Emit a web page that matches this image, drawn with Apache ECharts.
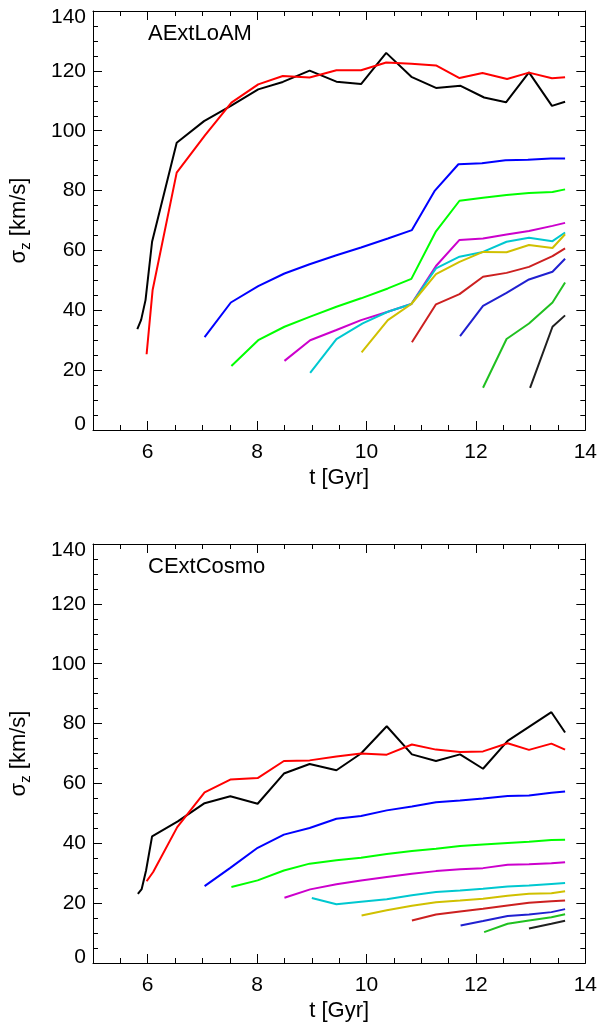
<!DOCTYPE html>
<html><head><meta charset="utf-8">
<script src="https://cdn.jsdelivr.net/npm/echarts@6/dist/echarts.min.js"></script>
<style>html,body{margin:0;padding:0;background:#fff}#c{width:600px;height:1024px}</style>
</head><body><div id="c"></div>
<script>
// ---- Panel titles ----
const panelTitles = ['AExtLoAM', 'CExtCosmo'];
const xName = 't [Gyr]';
const xTickLabels = [6, 8, 10, 12, 14];
const yTickLabels = [0, 20, 40, 60, 80, 100, 120, 140];

// ---- Panel A (AExtLoAM): [t, sigma_z] ----
const A_black = [[5.81,33.7],[5.88,36.8],[5.96,43.4],[6.08,62.9],[6.53,96.0],[7.03,103.2],[7.52,108.3],[8.02,113.8],[8.47,116.3],[8.96,120.1],[9.45,116.4],[9.9,115.6],[10.36,126.0],[10.82,118.0],[11.27,114.3],[11.72,115.0],[12.15,111.1],[12.55,109.5],[12.97,119.5],[13.39,108.3],[13.63,109.7]];
const A_red = [[5.98,25.3],[6.09,46.8],[6.53,86.0],[7.05,98.5],[7.53,109.4],[8.02,115.5],[8.47,118.3],[8.96,117.8],[9.45,120.2],[9.9,120.2],[10.36,122.8],[10.82,122.4],[11.27,121.8],[11.7,117.6],[12.12,119.3],[12.57,117.3],[12.97,119.4],[13.39,117.5],[13.63,117.9]];
const A_blue = [[7.04,31.0],[7.52,42.6],[8.02,48.1],[8.5,52.3],[8.96,55.4],[9.45,58.4],[9.9,61.0],[10.39,64.0],[10.83,66.8],[11.25,80.0],[11.68,88.8],[12.11,89.1],[12.54,90.1],[12.95,90.3],[13.37,90.7],[13.63,90.7]];
const A_green = [[7.53,21.4],[8.02,30.0],[8.5,34.5],[8.96,37.8],[9.45,41.2],[9.9,44.0],[10.39,47.3],[10.82,50.5],[11.27,66.4],[11.7,76.6],[12.13,77.6],[12.56,78.5],[12.97,79.2],[13.4,79.5],[13.63,80.4]];
const A_magenta = [[8.5,23.1],[8.97,30.0],[9.45,33.4],[9.9,36.7],[10.39,39.5],[10.82,42.1],[11.27,54.8],[11.7,63.5],[12.13,64.0],[12.56,65.3],[12.97,66.5],[13.4,68.2],[13.63,69.2]];
const A_cyan = [[8.97,19.1],[9.45,30.4],[9.93,35.6],[10.39,39.5],[10.82,42.1],[11.27,54.0],[11.7,57.9],[12.13,59.5],[12.56,62.9],[12.97,64.2],[13.4,63.1],[13.63,66.0]];
const A_yellow = [[9.91,25.9],[10.39,36.7],[10.82,42.1],[11.27,52.1],[11.7,56.2],[12.13,59.5],[12.56,59.4],[12.97,61.8],[13.4,60.8],[13.63,65.4]];
const A_red2 = [[10.83,29.3],[11.27,42.0],[11.7,45.4],[12.13,51.2],[12.56,52.5],[12.97,54.5],[13.4,58.1],[13.63,60.7]];
const A_blue2 = [[11.71,31.4],[12.13,41.5],[12.56,45.8],[12.97,50.3],[13.4,52.9],[13.63,57.2]];
const A_green2 = [[12.13,14.1],[12.56,30.4],[12.97,35.6],[13.4,42.6],[13.63,49.3]];
const A_black2 = [[12.99,14.1],[13.4,34.5],[13.63,38.3]];

// ---- Panel C (CExtCosmo): [t, sigma_z] ----
const C_black = [[5.82,23.1],[5.89,24.7],[5.97,30.9],[6.08,42.3],[6.55,47.3],[7.04,53.4],[7.51,55.7],[8.01,53.2],[8.49,63.3],[8.96,66.5],[9.45,64.4],[9.9,70.0],[10.37,79.1],[10.83,69.7],[11.27,67.5],[11.71,69.7],[12.13,64.9],[12.58,74.2],[12.97,78.9],[13.38,83.8],[13.63,77.0]];
const C_red = [[5.98,27.3],[6.1,30.4],[6.54,45.4],[7.04,57.0],[7.51,61.3],[8.01,61.8],[8.49,67.5],[8.96,67.7],[9.45,69.0],[9.9,70.0],[10.37,69.6],[10.83,73.0],[11.27,71.3],[11.71,70.5],[12.13,70.7],[12.58,73.4],[12.97,71.2],[13.38,73.3],[13.63,71.3]];
const C_blue = [[7.04,25.7],[7.51,31.8],[8.01,38.5],[8.49,42.9],[8.96,45.1],[9.45,48.2],[9.9,49.1],[10.37,51.0],[10.83,52.3],[11.27,53.7],[11.71,54.3],[12.13,55.0],[12.58,55.8],[12.97,56.0],[13.38,56.9],[13.63,57.3]];
const C_green = [[7.53,25.4],[8.01,27.6],[8.49,30.9],[8.96,33.2],[9.45,34.3],[9.9,35.2],[10.37,36.4],[10.83,37.4],[11.27,38.2],[11.71,39.1],[12.13,39.6],[12.58,40.1],[12.97,40.5],[13.38,41.1],[13.63,41.2]];
const C_magenta = [[8.5,21.8],[8.97,24.6],[9.45,26.3],[9.9,27.6],[10.37,28.7],[10.83,29.8],[11.27,30.7],[11.71,31.3],[12.13,31.7],[12.58,32.8],[12.97,33.0],[13.38,33.3],[13.63,33.7]];
const C_cyan = [[9.0,21.7],[9.45,19.6],[9.9,20.5],[10.37,21.3],[10.83,22.6],[11.27,23.7],[11.71,24.2],[12.13,24.8],[12.58,25.6],[12.97,25.9],[13.38,26.4],[13.63,26.7]];
const C_yellow = [[9.91,15.9],[10.37,17.6],[10.83,19.1],[11.27,20.3],[11.71,20.9],[12.13,21.5],[12.58,22.5],[12.97,23.1],[13.38,23.3],[13.63,24.0]];
const C_red2 = [[10.83,14.2],[11.27,16.2],[11.71,17.2],[12.13,18.1],[12.58,19.2],[12.97,20.1],[13.38,20.6],[13.63,20.9]];
const C_blue2 = [[11.72,12.5],[12.13,14.0],[12.58,15.7],[12.97,16.2],[13.38,17.0],[13.63,18.0]];
const C_green2 = [[12.15,10.3],[12.58,13.1],[12.97,14.2],[13.38,15.3],[13.63,16.3]];
const C_black2 = [[12.97,11.5],[13.38,13.1],[13.63,14.1]];

const seriesColors = ['#000000','#ff0000','#0000ff','#00ff00','#cc00cc','#00c8d0','#d0c000','#cc2020','#2020d0','#20c020','#202020'];
const panelData = [
  [A_black, A_red, A_blue, A_green, A_magenta, A_cyan, A_yellow, A_red2, A_blue2, A_green2, A_black2],
  [C_black, C_red, C_blue, C_green, C_magenta, C_cyan, C_yellow, C_red2, C_blue2, C_green2, C_black2]
];

// ---- layout / style ----
const FONT = '"Liberation Sans", Arial, Helvetica, sans-serif';
const FS = 21;
const FS_NAME = 22;
const grids = [
  {left: 93, top: 11, width: 493, height: 419},
  {left: 93, top: 544, width: 493, height: 419}
];
const xMinor = [];
for (let v = 5.5; v < 14; v += 0.5) if (!(v % 2 === 0)) xMinor.push(v);
const yMinor = [];
for (let v = 5; v < 140; v += 5) if (v % 20 !== 0) yMinor.push(v);

const lineSt = {color: '#000', width: 1};
const xAxes = [], yAxes = [], series = [];
grids.forEach((g, gi) => {
  const base = {gridIndex: gi, type: 'value', min: 5, max: 14, splitLine: {show: false}};
  xAxes.push(Object.assign({}, base, {
    position: 'bottom',
    axisLine: {show: true, onZero: false, lineStyle: lineSt},
    axisTick: {show: true, inside: true, length: 9, customValues: xTickLabels, lineStyle: lineSt},
    axisLabel: {show: true, customValues: xTickLabels, fontSize: FS, fontFamily: FONT, color: '#000', margin: 12},
    name: xName, nameLocation: 'middle', nameGap: 37,
    nameTextStyle: {fontSize: FS_NAME, fontFamily: FONT, color: '#000'}
  }));
  xAxes.push(Object.assign({}, base, {
    position: 'bottom', axisLine: {show: false, onZero: false},
    axisTick: {show: true, inside: true, length: 5, customValues: xMinor, lineStyle: lineSt},
    axisLabel: {show: false}
  }));
  xAxes.push(Object.assign({}, base, {
    position: 'top', axisLine: {show: true, onZero: false, lineStyle: lineSt},
    axisTick: {show: true, inside: true, length: 9, customValues: xTickLabels, lineStyle: lineSt},
    axisLabel: {show: false}
  }));
  xAxes.push(Object.assign({}, base, {
    position: 'top', axisLine: {show: false, onZero: false},
    axisTick: {show: true, inside: true, length: 5, customValues: xMinor, lineStyle: lineSt},
    axisLabel: {show: false}
  }));
  const ybase = {gridIndex: gi, type: 'value', min: 0, max: 140, splitLine: {show: false}};
  yAxes.push(Object.assign({}, ybase, {
    position: 'left',
    axisLine: {show: true, onZero: false, lineStyle: lineSt},
    axisTick: {show: true, inside: true, length: 9, customValues: yTickLabels, lineStyle: lineSt},
    axisLabel: {show: true, customValues: yTickLabels, fontSize: FS, fontFamily: FONT, color: '#000', margin: 7,
      formatter: v => v === 140 ? '{t|140}' : (v === 0 ? '{b|0}' : String(v)),
      rich: {
        t: {fontSize: FS, fontFamily: FONT, color: '#000', padding: [12, 0, 0, 0]},
        b: {fontSize: FS, fontFamily: FONT, color: '#000', padding: [0, 0, 12, 0]}
      }},
    name: '{s|σ}{z|z}{s| [km/s]}', nameLocation: 'middle', nameGap: 60, nameRotate: 90,
    nameTextStyle: {rich: {
      s: {fontSize: FS_NAME, fontFamily: FONT, color: '#000', lineHeight: 28},
      z: {fontSize: 15, fontFamily: FONT, color: '#000', lineHeight: 15, verticalAlign: 'bottom'}
    }}
  }));
  yAxes.push(Object.assign({}, ybase, {
    position: 'left', axisLine: {show: false, onZero: false},
    axisTick: {show: true, inside: true, length: 5, customValues: yMinor, lineStyle: lineSt},
    axisLabel: {show: false}
  }));
  yAxes.push(Object.assign({}, ybase, {
    position: 'right', axisLine: {show: true, onZero: false, lineStyle: lineSt},
    axisTick: {show: true, inside: true, length: 9, customValues: yTickLabels, lineStyle: lineSt},
    axisLabel: {show: false}
  }));
  yAxes.push(Object.assign({}, ybase, {
    position: 'right', axisLine: {show: false, onZero: false},
    axisTick: {show: true, inside: true, length: 5, customValues: yMinor, lineStyle: lineSt},
    axisLabel: {show: false}
  }));
  panelData[gi].forEach((d, si) => {
    series.push({
      type: 'line', xAxisIndex: gi * 4, yAxisIndex: gi * 4, data: d,
      symbol: 'none', showSymbol: false, silent: true,
      lineStyle: {color: seriesColors[si], width: 2}, itemStyle: {color: seriesColors[si]},
      z: 2 + si
    });
  });
});

const chart = echarts.init(document.getElementById('c'), null, {renderer: 'canvas'});
chart.setOption({
  animation: false,
  backgroundColor: '#fff',
  grid: grids,
  xAxis: xAxes,
  yAxis: yAxes,
  series: series,
  graphic: [
    {type: 'text', left: 148, top: 23, style: {text: panelTitles[0], fontSize: FS_NAME, fontFamily: FONT, fill: '#000'}},
    {type: 'text', left: 148, top: 556, style: {text: panelTitles[1], fontSize: FS_NAME, fontFamily: FONT, fill: '#000'}}
  ]
});
</script>
</body></html>
